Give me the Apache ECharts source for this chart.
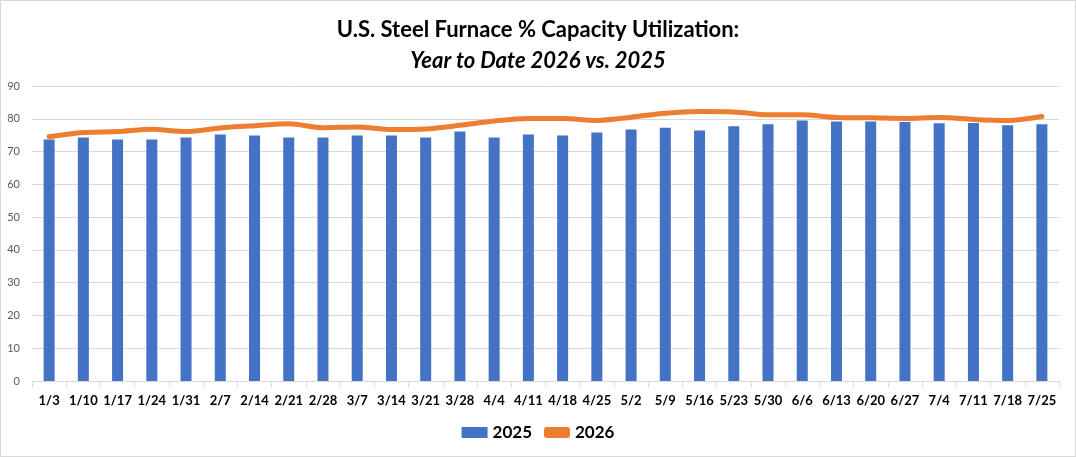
<!DOCTYPE html>
<html>
<head>
<meta charset="utf-8">
<script src="https://cdn.jsdelivr.net/npm/echarts@6/dist/echarts.min.js"></script>
<style>
  html, body { margin: 0; padding: 0; background: #fff; }
  #main { width: 1076px; height: 457px; box-sizing: border-box; border: 1px solid #d9d9d9; }
</style>
</head>
<body>
<div id="main"></div>
<script>
const weeks = ['1/3', '1/10', '1/17', '1/24', '1/31', '2/7', '2/14', '2/21', '2/28', '3/7',
    '3/14', '3/21', '3/28', '4/4', '4/11', '4/18', '4/25', '5/2', '5/9', '5/16',
    '5/23', '5/30', '6/6', '6/13', '6/20', '6/27', '7/4', '7/11', '7/18', '7/25'];

const util2025 = [73.7, 74.3, 73.7, 73.7, 74.3, 75.2, 74.9, 74.3, 74.3, 74.9,
    74.9, 74.3, 76.1, 74.3, 75.2, 74.9, 75.8, 76.7, 77.3, 76.4,
    77.7, 78.3, 79.5, 79.2, 79.2, 79.0, 78.6, 78.7, 78.0, 78.3];

const util2026 = [74.5, 75.8, 76.1, 76.8, 76.1, 77.2, 77.9, 78.5, 77.3, 77.5,
    76.7, 76.9, 78.0, 79.3, 80.1, 80.1, 79.5, 80.5, 81.7, 82.2,
    82.1, 81.2, 81.2, 80.4, 80.3, 80.1, 80.4, 79.8, 79.5, 80.7];

const yTicks = { min: 0, max: 90, interval: 10 };

const fontFam = 'Lato, "Noto Sans", sans-serif';

const chart = echarts.init(document.getElementById('main'));
const option = {
    backgroundColor: '#fff',
    animation: false,
    title: [
        {
            text: 'U.S. Steel Furnace % Capacity Utilization:',
            left: 'center',
            top: 13,
            textStyle: { fontFamily: fontFam, fontWeight: 'bold', fontSize: 22, color: '#000' }
        },
        {
            text: 'Year to Date 2026 vs. 2025',
            left: 'center',
            top: 44,
            textStyle: { fontFamily: fontFam, fontWeight: 'bold', fontStyle: 'italic', fontSize: 22, color: '#000' }
        }
    ],
    legend: {
        bottom: 10,
        left: 'center',
        itemGap: 12,
        itemWidth: 26,
        itemHeight: 11,
        textStyle: { fontFamily: fontFam, fontWeight: 'bold', fontSize: 17, color: '#000' },
        data: [
            { name: '2025', icon: 'rect', itemStyle: { color: '#4472C4' } },
            { name: '2026', icon: 'roundRect', itemStyle: { color: '#ED7D31' } }
        ]
    },
    grid: { left: 31, right: 16, top: 85, bottom: 75 },
    xAxis: {
        type: 'category',
        data: weeks,
        axisLine: { lineStyle: { color: '#d9d9d9' } },
        axisTick: { show: true, alignWithLabel: false, length: 6, lineStyle: { color: '#d9d9d9' } },
        axisLabel: { interval: 0, margin: 13, fontFamily: fontFam, fontWeight: 'bold', fontSize: 13, color: '#000' }
    },
    yAxis: {
        type: 'value',
        min: yTicks.min,
        max: yTicks.max,
        interval: yTicks.interval,
        axisLine: { show: false },
        axisTick: { show: false },
        splitLine: { lineStyle: { color: '#d9d9d9' } },
        axisLabel: { margin: 12, fontFamily: fontFam, fontSize: 11, color: '#595959' }
    },
    series: [
        {
            name: '2025',
            type: 'bar',
            data: util2025,
            barWidth: 11,
            itemStyle: { color: '#4472C4' }
        },
        {
            name: '2026',
            type: 'line',
            data: util2026,
            smooth: 0.3,
            symbol: 'none',
            lineStyle: { color: '#ED7D31', width: 5, cap: 'round' },
            itemStyle: { color: '#ED7D31' }
        }
    ]
};
chart.setOption(option);
</script>
</body>
</html>
